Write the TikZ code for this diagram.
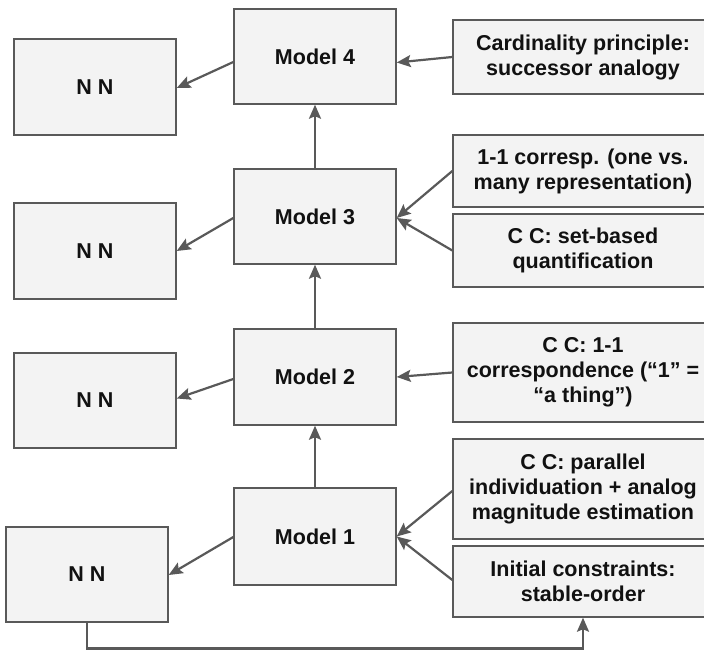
\documentclass[tikz,border=0pt]{standalone}
\usepackage{fontspec}
\setmainfont{Liberation Sans}
\usetikzlibrary{arrows.meta,calc}
\definecolor{boxfill}{HTML}{F3F3F3}
\definecolor{edge}{HTML}{595959}
\definecolor{ink}{HTML}{111111}
\begin{document}
\begin{tikzpicture}[x=1pt,y=-1pt,
  box/.style={draw=edge,line width=1.4pt,fill=boxfill,inner sep=0pt,align=center,
    font=\fontsize{21.5}{25}\selectfont\bfseries,text=ink},
  nnbox/.style={box,minimum width=162pt,minimum height=96pt},
  modelbox/.style={box,minimum width=162pt,minimum height=96pt},
  rbox/.style={box,minimum width=260pt},
  conn/.style={draw=edge,line width=2.2pt,-{Stealth[length=14pt,width=12pt,inset=2.5pt]}}]
\useasboundingbox (0,0) rectangle (704,650);
\begin{scope}
\clip (0,0) rectangle (704,650);
% left boxes
\node[nnbox] (nn1) at (95,87) {N N};
\node[nnbox] (nn2) at (95,251) {N N};
\node[nnbox,minimum height=95pt] (nn3) at (95,400.5) {N N};
\node[nnbox,minimum height=95pt] (nn4) at (87,574.5) {N N};
% models
\node[modelbox,minimum height=95pt] (m4) at (315,56.5) {Model 4};
\node[modelbox,minimum height=95pt] (m3) at (315,216.5) {Model 3};
\node[modelbox] (m2) at (315,377) {Model 2};
\node[modelbox,minimum height=97pt] (m1) at (315,536.5) {Model 1};
% right boxes
\node[rbox,minimum height=74pt] (r1) at (583,57) {Cardinality principle:\\successor analogy};
\node[rbox,minimum height=72pt] (r2) at (583,171) {1-1 corresp. (one vs.\\many representation)};
\node[rbox,minimum height=73pt] (r3) at (583,250.5) {C C: set-based\\quantification};
\node[rbox,minimum height=99pt] (r4) at (583,372.5) {C C: 1-1\\correspondence (“1” =\\“a thing”)};
\node[rbox,minimum height=100pt] (r5) at (583,489) {C C: parallel\\individuation + analog\\magnitude estimation};
\node[rbox,minimum height=71pt] (r6) at (583,581.5) {Initial constraints:\\stable-order};
\end{scope}
% connectors
\draw[conn] (r1.west) -- ($(m4.east)+(0,6)$);
\draw[conn] ($(m4.west)+(0,5.5)$) -- ($(nn1.east)+(0,1)$);
\draw[conn] (m3.north) -- (m4.south);
\coordinate (m3in) at ($(m3.east)+(0,1.5)$);
\draw[conn] (r2.west) -- (m3in);
\draw[conn] (r3.west) -- (m3in);
\draw[conn] ($(m3.west)+(0,1.5)$) -- (nn2.east);
\draw[conn] (m2.north) -- (m3.south);
\draw[conn] (r4.west) -- (m2.east);
\draw[conn] ($(m2.west)+(0,2)$) -- ($(nn3.east)+(0,-2)$);
\draw[conn] (m1.north) -- (m2.south);
\draw[conn] ($(r5.west)+(0,2)$) -- (m1.east);
\draw[conn] ($(r6.west)+(0,-1.5)$) -- (m1.east);
\draw[conn] ($(m1.west)+(0,0.5)$) -- ($(nn4.east)+(0,0.5)$);
\draw[conn] (nn4.south) -- (87,648.5) -| (r6.south);
\end{tikzpicture}
\end{document}
